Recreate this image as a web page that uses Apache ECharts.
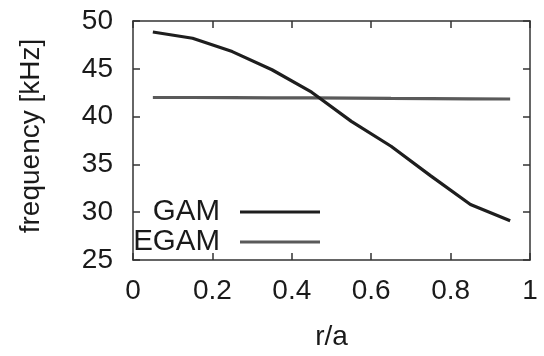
<!DOCTYPE html>
<html>
<head>
<meta charset="utf-8">
<script src="https://cdn.jsdelivr.net/npm/echarts@6/dist/echarts.min.js"></script>
<style>html,body{margin:0;padding:0;background:#fff;}#c{width:544px;height:356px;}</style>
</head>
<body>
<div id="c"></div>
<script>
var rValues = [0.05, 0.15, 0.25, 0.35, 0.45, 0.55, 0.65, 0.75, 0.85, 0.95];
var gamFreq = [48.85, 48.2, 46.8, 44.9, 42.55, 39.5, 36.9, 33.8, 30.8, 29.1];
var egamFreq = [42.0, 42.0, 41.98, 41.96, 41.95, 41.93, 41.9, 41.88, 41.86, 41.84];
var seriesNames = ['GAM', 'EGAM'];
var xTicks = [0, 0.2, 0.4, 0.6, 0.8, 1];
var yTicks = [25, 30, 35, 40, 45, 50];

function pairs(xs, ys) { return xs.map(function (x, i) { return [x, ys[i]]; }); }

var font = 'Liberation Sans, Arial, Helvetica, sans-serif';
var axisColor = '#333';
var txt = '#1a1a1a';

function xAx(pos, show) {
  return {
    type: 'value', position: pos, min: xTicks[0], max: xTicks[xTicks.length - 1], interval: 0.2,
    name: show ? 'r/a' : '', nameLocation: 'middle', nameGap: 63,
    nameTextStyle: { fontFamily: font, fontSize: 28, color: txt },
    axisLine: { show: true, onZero: false, lineStyle: { color: axisColor, width: 1.5 } },
    axisTick: { show: true, inside: true, length: 7, lineStyle: { color: axisColor, width: 1.5 } },
    axisLabel: { show: show, margin: 17, fontFamily: font, fontSize: 28, color: txt,
      formatter: function (v) { return String(v); } },
    splitLine: { show: false }
  };
}
function yAx(pos, show) {
  return {
    type: 'value', position: pos, min: yTicks[0], max: yTicks[yTicks.length - 1], interval: 5,
    name: show ? 'frequency [kHz]' : '', nameLocation: 'middle', nameGap: 88,
    nameTextStyle: { fontFamily: font, fontSize: 28, color: txt, padding: [0, 0, 0, 9] },
    axisLine: { show: true, onZero: false, lineStyle: { color: axisColor, width: 1.5 } },
    axisTick: { show: true, inside: true, length: 7, lineStyle: { color: axisColor, width: 1.5 } },
    axisLabel: { show: show, margin: 20, fontFamily: font, fontSize: 28, color: txt },
    splitLine: { show: false }
  };
}

var chart = echarts.init(document.getElementById('c'), null, { renderer: 'canvas' });
chart.setOption({
  backgroundColor: '#fff',
  animation: false,
  grid: { left: 133, right: 14, top: 21, bottom: 91 },
  xAxis: [xAx('bottom', true), xAx('top', false)],
  yAxis: [yAx('left', true), yAx('right', false)],
  legend: [
    { data: [seriesNames[0]], orient: 'vertical', align: 'right', right: 224, top: 197, padding: 0,
      icon: 'rect', itemWidth: 80, itemHeight: 3.2,
      textStyle: { fontFamily: font, fontSize: 29.5, color: txt, padding: [0, 15, 0, 0] } },
    { data: [seriesNames[1]], orient: 'vertical', align: 'right', right: 224, top: 227, padding: 0,
      icon: 'rect', itemWidth: 80, itemHeight: 3.2,
      textStyle: { fontFamily: font, fontSize: 29.5, color: txt, padding: [0, 15, 0, 0] } }
  ],
  series: [
    { name: seriesNames[0], type: 'line', data: pairs(rValues, gamFreq), showSymbol: false,
      color: '#1e1e1e', lineStyle: { color: '#1e1e1e', width: 3.2 }, z: 3 },
    { name: seriesNames[1], type: 'line', data: pairs(rValues, egamFreq), showSymbol: false,
      color: '#5a5a5a', lineStyle: { color: '#5a5a5a', width: 3.2 }, z: 2 }
  ]
});
</script>
</body>
</html>
